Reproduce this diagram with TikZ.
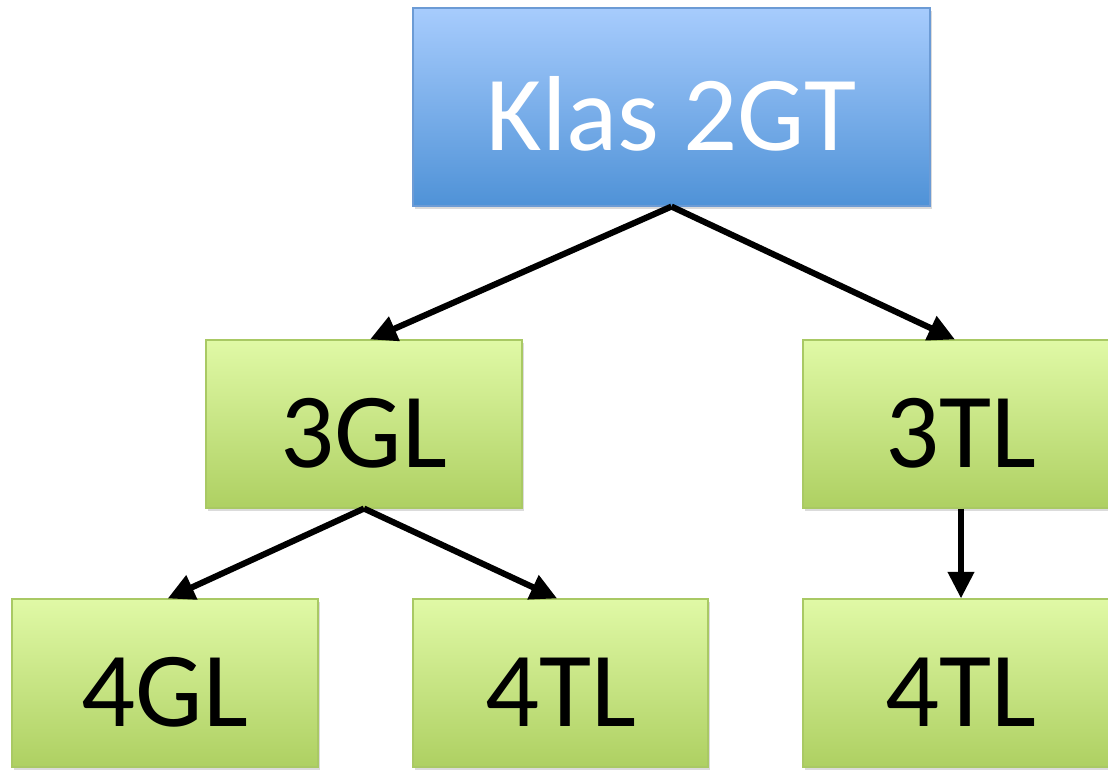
\documentclass[tikz,border=0pt]{standalone}
\usepackage{fontspec}
\setmainfont{Carlito}
\usetikzlibrary{arrows.meta,shadows}
\definecolor{bluetop}{HTML}{A7CCFD}
\definecolor{bluebot}{HTML}{4F92D7}
\definecolor{blueline}{HTML}{6C9BD5}
\definecolor{greentop}{HTML}{E0F9A6}
\definecolor{greenbot}{HTML}{AED062}
\definecolor{greenline}{HTML}{A9C964}
\tikzset{
  box/.style={draw, line width=0.8pt, inner sep=0pt,
    text height=64.5pt, text depth=0pt,
    font=\fontsize{80}{96}\selectfont,
    drop shadow={opacity=0.28, shadow xshift=1.5pt, shadow yshift=-2pt}},
  bluebox/.style={box, draw=blueline, top color=bluetop, bottom color=bluebot, text=white},
  greenbox/.style={box, draw=greenline, top color=greentop, bottom color=greenbot, text=black},
  conn/.style={line width=4.6pt, -{Triangle[length=20pt,width=19pt]}}
}
\begin{document}
\begin{tikzpicture}[x=0.75pt,y=-0.75pt]
\clip (0,0) rectangle (1108,769);
\fill[white] (0,0) rectangle (1108,769);
\node[bluebox, minimum width=387.75pt, minimum height=148.5pt] (klas) at (671.5,107) {Klas 2GT};
\node[greenbox, minimum width=237pt, minimum height=126pt] (g3) at (364,424) {3GL};
\node[greenbox, minimum width=237pt, minimum height=126pt] (t3) at (961,424) {3TL};
\node[greenbox, minimum width=229.5pt, minimum height=126pt] (g4) at (165,683) {4GL};
\node[greenbox, minimum width=221.25pt, minimum height=126pt] (t4a) at (560.5,683) {4TL};
\node[greenbox, minimum width=237pt, minimum height=126pt] (t4b) at (961,683) {4TL};
\draw[conn] (klas.south) -- ([xshift=4.5pt]g3.north);
\draw[conn] (klas.south) -- ([xshift=-4.5pt]t3.north);
\draw[conn] (g3.south) -- ([xshift=2pt]g4.north);
\draw[conn] (g3.south) -- ([xshift=-2.5pt]t4a.north);
\draw[conn] (t3.south) -- (t4b.north);
\end{tikzpicture}
\end{document}
